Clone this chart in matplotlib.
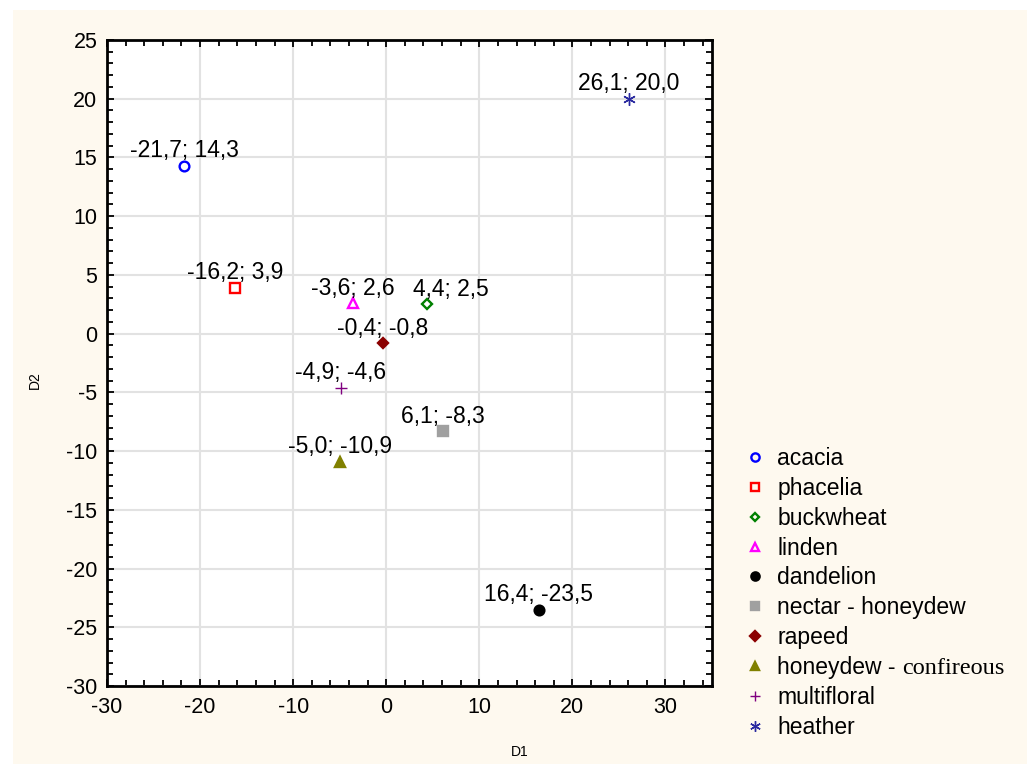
"""Discriminant scores D1/D2 for honey types, with labelled points."""

import matplotlib

matplotlib.use("Agg")
import matplotlib.pyplot as plt
from matplotlib.ticker import MultipleLocator

plt.rcParams["font.family"] = ["Liberation Sans", "DejaVu Sans"]
plt.rcParams["axes.unicode_minus"] = False

# --- data --------------------------------------------------------------------
NAMES = [
    "acacia",
    "phacelia",
    "buckwheat",
    "linden",
    "dandelion",
    "nectar - honeydew",
    "rapeed",
    "honeydew - ",
    "multifloral",
    "heather",
]
D1 = [-21.7, -16.2, 4.4, -3.6, 16.4, 6.1, -0.4, -5.0, -4.9, 26.1]
D2 = [14.3, 3.9, 2.5, 2.6, -23.5, -8.3, -0.8, -10.9, -4.6, 20.0]

X_TICKS = [-30, -20, -10, 0, 10, 20, 30]
Y_TICKS = [-30, -25, -20, -15, -10, -5, 0, 5, 10, 15, 20, 25]

# --- styles ------------------------------------------------------------------
COLORS = ["#0000ff", "#ff0000", "#008000", "#ff00ff", "#000000",
          "#a0a0a0", "#8b0000", "#808000", "#800080", "#2a2aa0"]
MARKERS = ["o", "s", "D", "^", "o", "s", "D", "^", "+", (6, 2, 0)]
FILLED = [False, False, False, False, True, True, True, True, True, True]
SIZES = [7, 7, 5, 6.5, 7, 7, 5.5, 7, 8, 9]
# horizontal nudge (points) for labels that would otherwise collide
LABEL_DX = {"buckwheat": 17}

CREAM = "#fef9ef"


def fmt(v: float) -> str:
    return f"{v:.1f}".replace(".", ",")


fig = plt.figure(figsize=(10.27, 7.64), dpi=100)
fig.patches.append(
    plt.Rectangle((13 / 1027, 0), 1, 1 - 10 / 764, transform=fig.transFigure,
                  facecolor=CREAM, edgecolor="none", zorder=-10)
)
ax = fig.add_axes([107 / 1027, 1 - 686 / 764, (712 - 107) / 1027, (686 - 40) / 764])
ax.set_facecolor("white")

handles = []
for name, x, y, c, m, f, s in zip(NAMES, D1, D2, COLORS, MARKERS, FILLED, SIZES):
    thin = m == "+" or isinstance(m, tuple)
    (h,) = ax.plot(
        [x], [y], linestyle="none", marker=m, markersize=s,
        markeredgecolor=c, markerfacecolor=c if f else "none",
        markeredgewidth=1.0 if thin else 1.7,
        label=name, zorder=3,
    )
    handles.append(h)
    ax.annotate(f"{fmt(x)}; {fmt(y)}", (x, y), xytext=(LABEL_DX.get(name, 0), 6),
                textcoords="offset points", ha="center", va="baseline",
                fontsize=16.5, zorder=4)

ax.set_xlim(-30, 35)
ax.set_ylim(-30, 25)
ax.set_xticks(X_TICKS)
ax.set_yticks(Y_TICKS)
ax.set_xticklabels([str(t) for t in X_TICKS])
ax.set_yticklabels([str(t) for t in Y_TICKS])
ax.xaxis.set_minor_locator(MultipleLocator(2))
ax.yaxis.set_minor_locator(MultipleLocator(1))
ax.tick_params(which="both", direction="in", top=True, right=True, width=1.3, color="black")
ax.tick_params(which="major", length=5, labelsize=15.5)
ax.tick_params(axis="x", which="major", pad=8)
ax.tick_params(axis="y", which="major", pad=7)
ax.tick_params(which="minor", length=4)
ax.grid(True, which="major", color="#e2e2e2", linewidth=1.5, zorder=0)
ax.set_axisbelow(True)
for sp in ax.spines.values():
    sp.set_linewidth(2)
    sp.set_color("black")

fig.text(520 / 1027, 1 - 752 / 764, "D1", ha="center", va="center", fontsize=10)
fig.text(35 / 1027, 1 - 380 / 764, "D2", ha="center", va="center", fontsize=10, rotation=90)

leg = fig.legend(
    handles=handles, loc="upper left", bbox_to_anchor=(744 / 1027, 1 - 447 / 764),
    frameon=False, fontsize=16.5, handlelength=1.0, handletextpad=0.45,
    labelspacing=0.3, borderaxespad=0, borderpad=0, markerscale=0.85,
)

# second half of one legend label is set in a serif face, as in the source
fig.canvas.draw()
bb = leg.get_texts()[7].get_window_extent()
fig.text(bb.x1 / fig.bbox.width, bb.y0 / fig.bbox.height, "confireous",
         ha="left", va="bottom", fontsize=17.5, family=["Liberation Serif", "DejaVu Serif"])

fig.savefig("out.png", dpi=100, facecolor="white")
